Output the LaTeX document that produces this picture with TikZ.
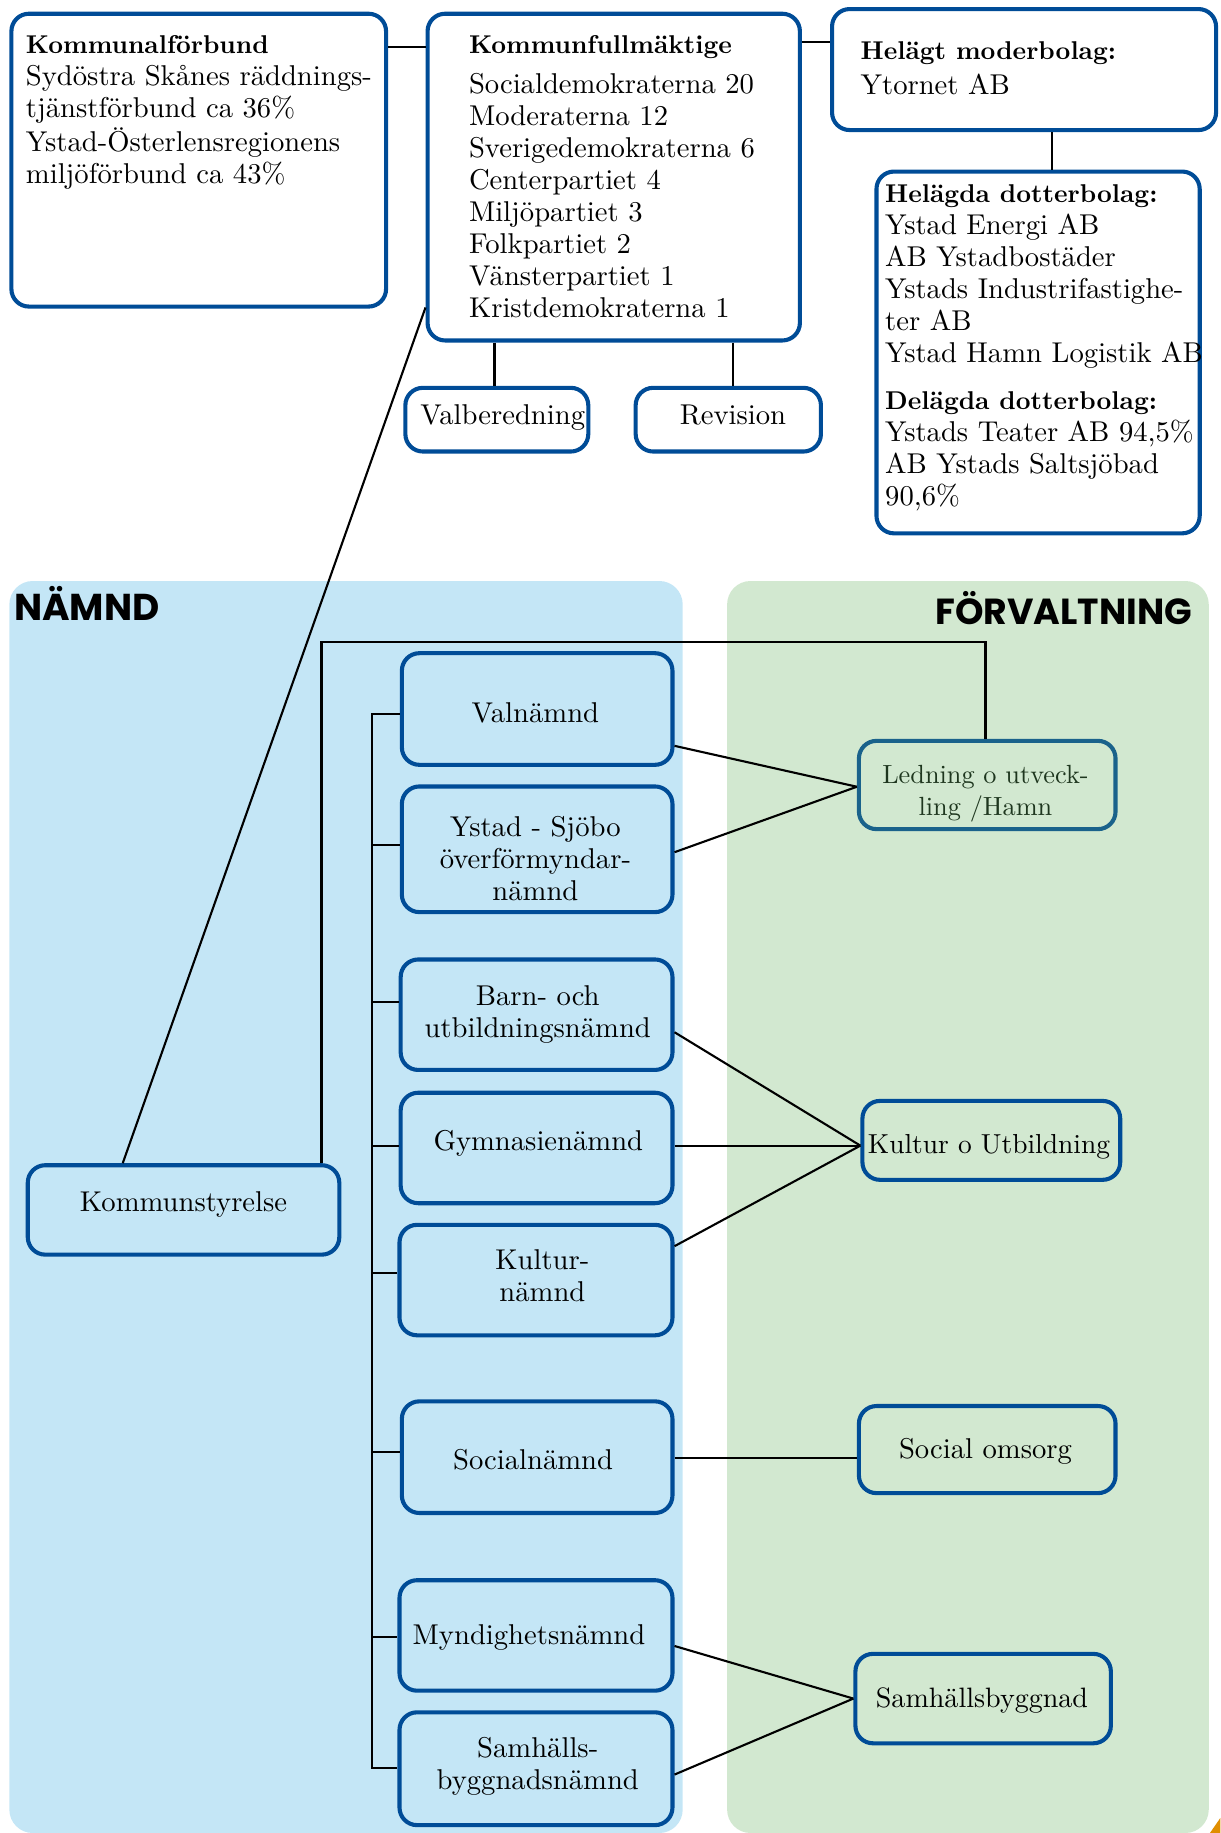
\documentclass[tikz,border=0pt]{standalone}
\usepackage{fontspec}
\setmainfont{lmroman10-regular.otf}[BoldFont=lmroman10-bold.otf]
\newfontfamily\titlefont{Poppins}
\definecolor{nblue}{HTML}{004C97}
\definecolor{tealb}{HTML}{1A628B}
\definecolor{lblue}{HTML}{C4E6F6}
\definecolor{lgreen}{HTML}{D2E8D0}
\definecolor{dgreen}{HTML}{1E361E}
\definecolor{orng}{HTML}{E08E00}
\newcommand{\Lft}[1]{\begin{tabular}[t]{@{}l@{}}#1\end{tabular}}
\newcommand{\Ctr}[1]{\begin{tabular}{@{}c@{}}#1\end{tabular}}
\newcommand{\hdf}{\fontsize{22}{27.4}\selectfont\bfseries}
\begin{document}
\begin{tikzpicture}[x=1pt,y=-1pt,
  font=\fontsize{24.5}{27.4}\selectfont,
  box/.style={draw=nblue, line width=3.5pt, rounded corners=15pt, inner sep=0pt},
  wbox/.style={box, fill=white},
  bbox/.style={box, fill=lblue},
  gbox/.style={box, fill=lgreen},
  conn/.style={line width=1.8pt, black},
  ltxt/.style={inner sep=0pt, anchor=base west},
  ctxt/.style={inner sep=0pt, anchor=center},
  ptitle/.style={inner sep=0pt, font=\titlefont\bfseries\fontsize{32}{32}\selectfont}]
\useasboundingbox (0,0) rectangle (1044,1568);

% panels
\fill[lblue, rounded corners=20pt] (8,497) rectangle (584,1568);
\fill[lgreen, rounded corners=20pt] (622,497) rectangle (1034,1568);
\fill[orng] (1044,1555) .. controls (1040,1561) .. (1035,1568) -- (1044,1568) -- cycle;
\node[ptitle, anchor=base west] (tnamnd) at (12,531) {NÄMND};
\node[ptitle, anchor=base east, font=\titlefont\bfseries\fontsize{31}{31}\selectfont] (tforv) at (1020,534) {FÖRVALTNING};

% top boxes
\node[wbox, minimum width=320.5pt, minimum height=250.5pt] (kfb) at (170,137) {};
\node[wbox, minimum width=318.5pt, minimum height=279.5pt] (kf) at (525,151.5) {};
\node[wbox, minimum width=328.5pt, minimum height=103.5pt] (moder) at (876,59.5) {};
\node[wbox, minimum width=276.5pt, minimum height=309.5pt] (dotter) at (888,301.5) {};
\node[wbox, minimum width=156.5pt, minimum height=54.5pt] (valb) at (425,359) {};
\node[wbox, minimum width=158.5pt, minimum height=54.5pt] (rev) at (623,359) {};

\node[ltxt] (kfbt) at (22,46) {\Lft{\hdf Kommunalförbund\\ Sydöstra Skånes räddnings-\\ tjänstförbund ca 36\%\\ Ystad-Österlensregionens\\ miljöförbund ca 43\%}};
\node[ltxt] (kft) at (401,46) {\Lft{\hdf Kommunfullmäktige\\[6.6pt] Socialdemokraterna 20\\ Moderaterna 12\\ Sverigedemokraterna 6\\ Centerpartiet 4\\ Miljöpartiet 3\\ Folkpartiet 2\\ Vänsterpartiet 1\\ Kristdemokraterna 1}};
\node[ltxt] (modert) at (736,51) {\Lft{\hdf Helägt moderbolag:\\[2.6pt] Ytornet AB}};
\node[ltxt] (dottert) at (757,173) {\Lft{\hdf Helägda dotterbolag:\\ Ystad Energi AB\\ AB Ystadbostäder\\ Ystads Industrifastighe-\\ ter AB\\ Ystad Hamn Logistik AB\\[12.6pt] \hdf Delägda dotterbolag:\\ Ystads Teater AB 94,5\%\\ AB Ystads Saltsjöbad\\ 90,6\%}};
\node[ctxt] (valbt) at (430,357.5) {\Ctr{Valberedning}};
\node[ctxt] (revt) at (627,357.5) {\Ctr{Revision}};

% namnd boxes
\node[bbox, minimum width=231.5pt, minimum height=95.5pt] (valn) at (459.5,606.5) {};
\node[bbox, minimum width=231.5pt, minimum height=107.5pt] (ysjo) at (459.5,726.5) {};
\node[bbox, minimum width=232.5pt, minimum height=94.5pt] (barn) at (459,868) {};
\node[bbox, minimum width=232.5pt, minimum height=94.5pt] (gymn) at (459,982) {};
\node[bbox, minimum width=233.5pt, minimum height=94.5pt] (kult) at (458.5,1095) {};
\node[bbox, minimum width=231.5pt, minimum height=95.5pt] (soc) at (459.5,1246.5) {};
\node[bbox, minimum width=233.5pt, minimum height=94.5pt] (mynd) at (458.5,1399) {};
\node[bbox, minimum width=233.5pt, minimum height=96.5pt] (samn) at (458.5,1513) {};
\node[bbox, minimum width=266.5pt, minimum height=76.5pt] (ks) at (157,1035) {};

\node[ctxt] (valnt) at (458,612.5) {\Ctr{Valnämnd}};
\node[ctxt] (ysjot) at (458,737.5) {\Ctr{Ystad - Sjöbo\\ överförmyndar-\\ nämnd}};
\node[ctxt] (barnt) at (460,868) {\Ctr{Barn- och\\ utbildningsnämnd}};
\node[ctxt] (gymnt) at (460.5,978.5) {\Ctr{Gymnasienämnd}};
\node[ctxt] (kultt) at (464,1094) {\Ctr{Kultur-\\ nämnd}};
\node[ctxt] (soct) at (456,1251.5) {\Ctr{Socialnämnd}};
\node[ctxt] (myndt) at (452.5,1401.5) {\Ctr{Myndighetsnämnd}};
\node[ctxt] (samnt) at (460,1512) {\Ctr{Samhälls-\\ byggnadsnämnd}};
\node[ctxt] (kst) at (157,1030.5) {\Ctr{Kommunstyrelse}};

% forvaltning boxes
\node[gbox, draw=tealb, minimum width=219.5pt, minimum height=75.5pt] (led) at (844.5,671.5) {};
\node[gbox, minimum width=220.5pt, minimum height=67.5pt] (kub) at (848,975.5) {};
\node[gbox, minimum width=219.5pt, minimum height=74.5pt] (somsorg) at (844.5,1240) {};
\node[gbox, minimum width=218.5pt, minimum height=76.5pt] (shb) at (841,1453) {};

\node[ctxt, text=dgreen, font=\fontsize{22.5}{27.4}\selectfont] (ledt) at (843,678.5) {\Ctr{Ledning o utveck-\\ ling /Hamn}};
\node[ctxt, font=\fontsize{23.5}{27.4}\selectfont] (kubt) at (846,981.5) {\Ctr{Kultur o Utbildning}};
\node[ctxt] (somsorgt) at (843,1242.5) {\Ctr{Social omsorg}};
\node[ctxt, font=\fontsize{24}{27.4}\selectfont] (shbt) at (840,1455.5) {\Ctr{Samhällsbyggnad}};

% connectors top
\draw[conn] (kfb.east |- 0,40) -- (kf.west |- 0,40);
\draw[conn] (kf.east |- 0,36) -- (moder.west |- 0,36);
\draw[conn] (kf.south -| 423,0) -- (valb.north -| 423,0);
\draw[conn] (kf.south -| 627,0) -- (rev.north -| 627,0);
\draw[conn] (moder.south -| 900,0) -- (dotter.north -| 900,0);
\draw[conn] (ks.north -| 105,0) -- (kf.west |- 0,263);

% bracket Kommunstyrelse -> Ledning
\coordinate (btl) at (275,549);
\coordinate (btr) at (843,549);
\draw[conn] (ks.north -| 275,0) -- (btl) -- (btr) -- (led.north -| 843,0);

% inner bracket
\coordinate (itop) at (318,611);
\coordinate (ibot) at (318,1512);
\draw[conn] (valn.west |- 0,611) -- (itop) -- (ibot) -- (samn.west |- 0,1512);
\draw[conn] (318,723) -- (ysjo.west |- 0,723);
\draw[conn] (318,857) -- (barn.west |- 0,857);
\draw[conn] (318,980) -- (gymn.west |- 0,980);
\draw[conn] (318,1089) -- (kult.west |- 0,1089);
\draw[conn] (318,1242) -- (soc.west |- 0,1242);
\draw[conn] (318,1400) -- (mynd.west |- 0,1400);

% namnd -> forvaltning
\draw[conn] (valn.east |- 0,638) -- (led.west |- 0,673);
\draw[conn] (ysjo.east |- 0,729) -- (led.west |- 0,673);
\draw[conn] (barn.east |- 0,883) -- (kub.west |- 0,980);
\draw[conn] (gymn.east |- 0,980) -- (kub.west |- 0,980);
\draw[conn] (kult.east |- 0,1066) -- (kub.west |- 0,980);
\draw[conn] (soc.east |- 0,1247) -- (somsorg.west |- 0,1247);
\draw[conn] (mynd.east |- 0,1408) -- (shb.west |- 0,1453);
\draw[conn] (samn.east |- 0,1518) -- (shb.west |- 0,1453);
\end{tikzpicture}
\end{document}
